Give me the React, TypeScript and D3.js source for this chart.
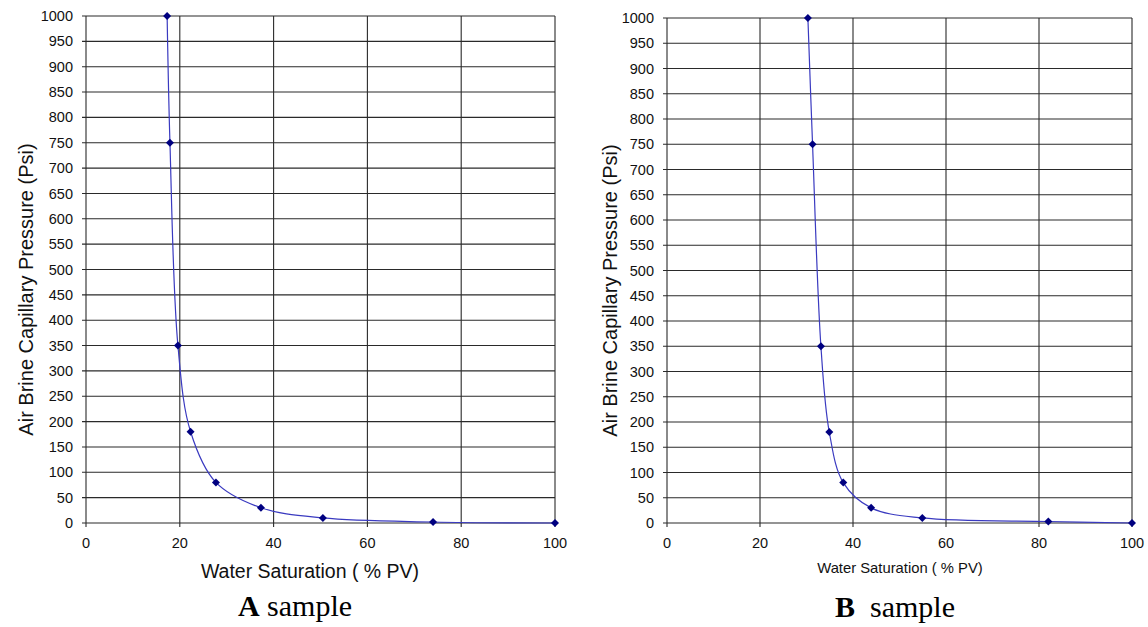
import React from "react";
import * as d3 from "d3";

const yTicks = [0, 50, 100, 150, 200, 250, 300, 350, 400, 450, 500, 550, 600, 650, 700, 750, 800, 850, 900, 950, 1000];
const xTicks = [0, 20, 40, 60, 80, 100];

const satA = [17.3, 17.9, 19.6, 22.3, 27.7, 37.3, 50.5, 74.0, 100];
const pcA = [1000, 750, 350, 180, 80, 30, 10, 2, 0];
const satB = [30.3, 31.3, 33.1, 34.9, 37.9, 43.9, 54.9, 82.0, 100];
const pcB = [1000, 750, 350, 180, 80, 30, 10, 3, 0];

type PanelProps = {
  sat: number[]; pc: number[]; left: number; right: number; top: number; bottom: number;
  titleX: number; xTitleSize: number; xTitleX: number; xTitleY: number;
  letter: string; captionX: number; captionY: number;
};

const sans = "Liberation Sans, Arial, sans-serif";

function Panel(p: PanelProps) {
  const { sat, pc, left, right, top, bottom } = p;
  const x = d3.scaleLinear().domain([0, 100]).range([left, right]);
  const y = d3.scaleLinear().domain([0, 1000]).range([bottom, top]);
  const pts: [number, number][] = sat.map((s, i) => [x(s), y(pc[i])]);
  const line = d3.line().curve(d3.curveCatmullRom.alpha(0.5))(pts) || "";
  const square = d3.symbol().type(d3.symbolSquare).size(32)() || "";
  const grid = "#2a2a2a";
  return (
    <g>
      {yTicks.map((t) => (
        <g key={"y" + t}>
          <line x1={left - 4} x2={right} y1={y(t)} y2={y(t)} stroke={grid} strokeWidth={1.1} />
          <text x={left - 13} y={y(t)} dy="0.35em" textAnchor="end" fontSize={14.5} fontFamily={sans} fill="#111">{t}</text>
        </g>
      ))}
      {xTicks.map((t) => (
        <g key={"x" + t}>
          <line x1={x(t)} x2={x(t)} y1={top} y2={bottom + 4} stroke={grid} strokeWidth={1.1} />
          <text x={x(t)} y={bottom + 25} textAnchor="middle" fontSize={14.5} fontFamily={sans} fill="#111">{t}</text>
        </g>
      ))}
      <path d={line} fill="none" stroke="#3a3ac0" strokeWidth={1.2} />
      {pts.map((q, i) => (
        <path key={i} d={square} transform={`translate(${q[0]},${q[1]}) rotate(45)`} fill="#000080" />
      ))}
      <text transform={`translate(${p.titleX},${(top + bottom) / 2 + 20}) rotate(-90)`} dy="0.35em" textAnchor="middle" fontSize={20} fontFamily={sans} fill="#111">Air Brine Capillary Pressure (Psi)</text>
      <text x={p.xTitleX} y={p.xTitleY} textAnchor="middle" fontSize={p.xTitleSize} fontFamily={sans} fill="#111">Water Saturation ( % PV)</text>
      <text x={p.captionX} y={p.captionY} textAnchor="middle" fontSize={30} fontFamily="Liberation Serif, Times New Roman, serif" fill="#000">
        <tspan fontWeight="bold">{p.letter}</tspan>{p.letter === "B" ? "\u00a0 sample" : " sample"}
      </text>
    </g>
  );
}

export default function App() {
  return (
    <svg width={1148} height={627} style={{ position: "absolute", left: 0, top: 0, background: "#fff" }}>
      <rect width={1148} height={627} fill="#fff" />
      <Panel sat={satA} pc={pcA} left={86} right={555} top={16} bottom={523} titleX={26}
        xTitleSize={19.5} xTitleX={310} xTitleY={578} letter="A" captionX={295} captionY={616} />
      <Panel sat={satB} pc={pcB} left={667} right={1132} top={18} bottom={523} titleX={610}
        xTitleSize={14.8} xTitleX={900} xTitleY={573} letter="B" captionX={895} captionY={617} />
    </svg>
  );
}
